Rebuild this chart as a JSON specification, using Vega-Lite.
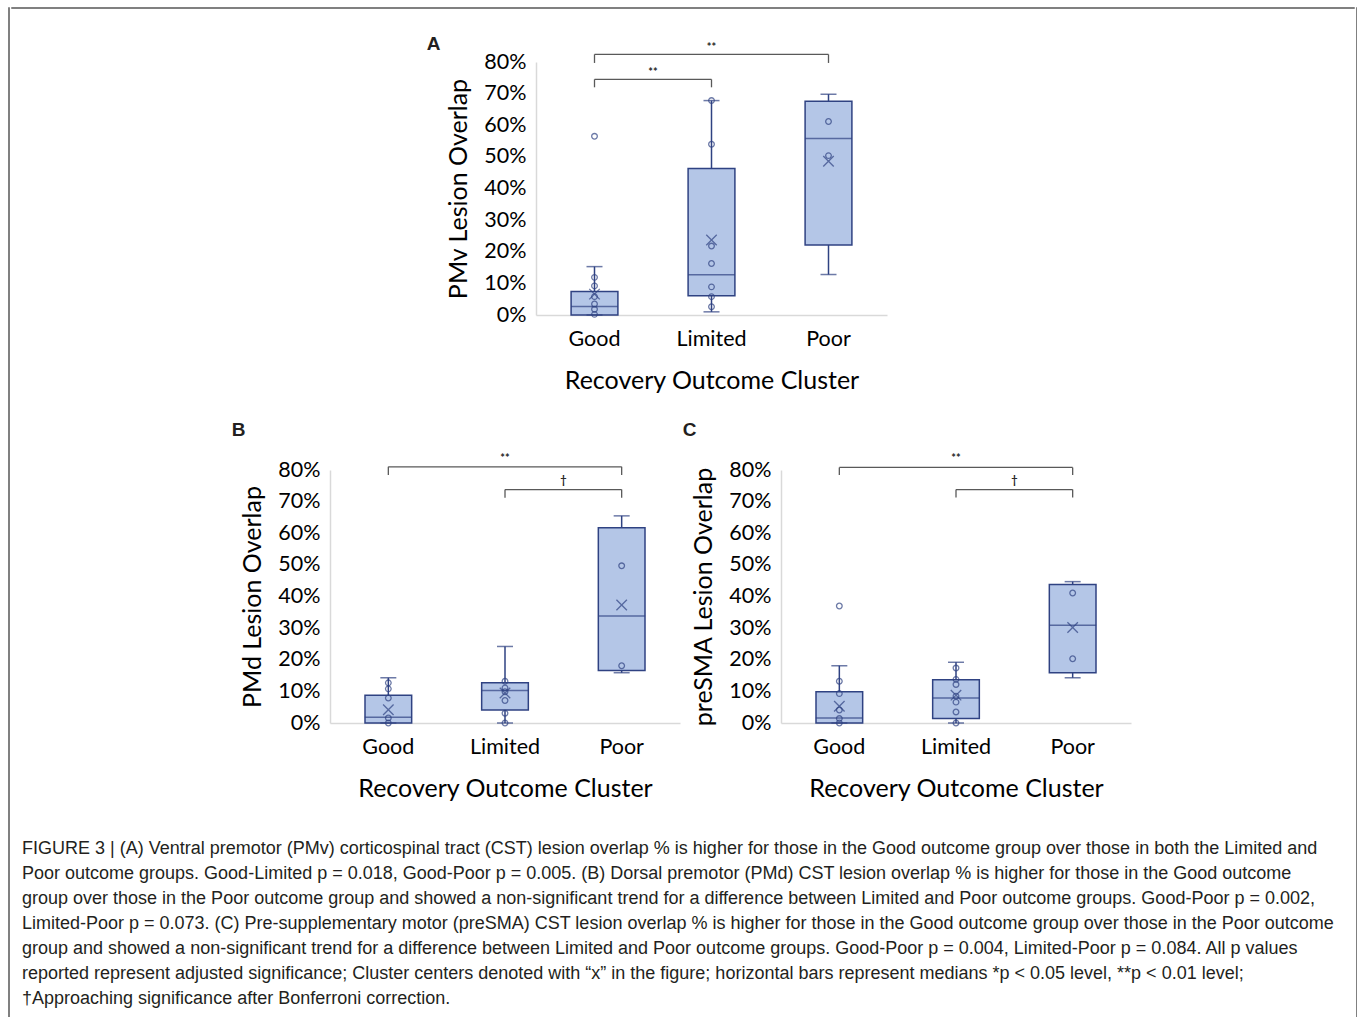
{
  "$schema": "https://vega.github.io/schema/vega-lite/v6.json",
  "padding": {"left": 7, "top": 6, "right": 0, "bottom": 0},
  "autosize": {"type": "pad"},
  "background": "white",
  "spacing": 0,
  "datasets": {
    "stats": [
      {"panel": "A", "group": "Good", "lo": 0, "q1": 0, "median": 2.7, "q3": 7.4, "hi": 15.3, "mean": 6.6},
      {"panel": "A", "group": "Limited", "lo": 1.0, "q1": 6.1, "median": 12.7, "q3": 46.3, "hi": 67.8, "mean": 23.7},
      {"panel": "A", "group": "Poor", "lo": 12.8, "q1": 22.1, "median": 55.8, "q3": 67.6, "hi": 69.8, "mean": 48.6},
      {"panel": "B", "group": "Good", "lo": 0, "q1": 0, "median": 1.8, "q3": 8.8, "hi": 14.3, "mean": 4.2},
      {"panel": "B", "group": "Limited", "lo": 0, "q1": 4.1, "median": 10.3, "q3": 12.7, "hi": 24.2, "mean": 9.5},
      {"panel": "B", "group": "Poor", "lo": 15.9, "q1": 16.6, "median": 33.8, "q3": 61.7, "hi": 65.5, "mean": 37.3},
      {"panel": "C", "group": "Good", "lo": 0, "q1": 0, "median": 1.6, "q3": 9.9, "hi": 18.1, "mean": 5.3},
      {"panel": "C", "group": "Limited", "lo": 0, "q1": 1.4, "median": 7.9, "q3": 13.7, "hi": 19.2, "mean": 8.8},
      {"panel": "C", "group": "Poor", "lo": 14.3, "q1": 15.9, "median": 30.9, "q3": 43.8, "hi": 44.7, "mean": 30.2}
    ],
    "points": [
      {"panel": "A", "group": "Good", "value": 56.5},
      {"panel": "A", "group": "Good", "value": 11.9},
      {"panel": "A", "group": "Good", "value": 9.2},
      {"panel": "A", "group": "Good", "value": 5.8},
      {"panel": "A", "group": "Good", "value": 3.5},
      {"panel": "A", "group": "Good", "value": 1.8},
      {"panel": "A", "group": "Good", "value": 0.2},
      {"panel": "A", "group": "Limited", "value": 67.8},
      {"panel": "A", "group": "Limited", "value": 54.0},
      {"panel": "A", "group": "Limited", "value": 21.8},
      {"panel": "A", "group": "Limited", "value": 16.3},
      {"panel": "A", "group": "Limited", "value": 8.9},
      {"panel": "A", "group": "Limited", "value": 5.8},
      {"panel": "A", "group": "Limited", "value": 2.6},
      {"panel": "A", "group": "Poor", "value": 61.2},
      {"panel": "A", "group": "Poor", "value": 50.4},
      {"panel": "B", "group": "Good", "value": 12.7},
      {"panel": "B", "group": "Good", "value": 10.8},
      {"panel": "B", "group": "Good", "value": 7.9},
      {"panel": "B", "group": "Good", "value": 1.6},
      {"panel": "B", "group": "Good", "value": 0},
      {"panel": "B", "group": "Limited", "value": 13.2},
      {"panel": "B", "group": "Limited", "value": 11.1},
      {"panel": "B", "group": "Limited", "value": 9.9},
      {"panel": "B", "group": "Limited", "value": 7.1},
      {"panel": "B", "group": "Limited", "value": 3.1},
      {"panel": "B", "group": "Limited", "value": 0},
      {"panel": "B", "group": "Poor", "value": 49.7},
      {"panel": "B", "group": "Poor", "value": 18.1},
      {"panel": "C", "group": "Good", "value": 37.0},
      {"panel": "C", "group": "Good", "value": 13.2},
      {"panel": "C", "group": "Good", "value": 9.3},
      {"panel": "C", "group": "Good", "value": 4.1},
      {"panel": "C", "group": "Good", "value": 1.4},
      {"panel": "C", "group": "Good", "value": 0},
      {"panel": "C", "group": "Limited", "value": 17.4},
      {"panel": "C", "group": "Limited", "value": 13.8},
      {"panel": "C", "group": "Limited", "value": 12.2},
      {"panel": "C", "group": "Limited", "value": 8.5},
      {"panel": "C", "group": "Limited", "value": 6.6},
      {"panel": "C", "group": "Limited", "value": 3.5},
      {"panel": "C", "group": "Limited", "value": 0},
      {"panel": "C", "group": "Poor", "value": 41.1},
      {"panel": "C", "group": "Poor", "value": 20.3}
    ],
    "brackets": [
      {"panel": "A", "from": "Good", "to": "Poor", "bar": 82.4, "drop": 79.7, "label": "**", "labelAt": "Limited", "edge": false, "labelY": 84.4},
      {"panel": "A", "from": "Good", "to": "Limited", "bar": 74.5, "drop": 72.0, "label": "**", "labelAt": "Good", "edge": true, "labelY": 76.5},
      {"panel": "B", "from": "Good", "to": "Poor", "bar": 81.0, "drop": 78.4, "label": "**", "labelAt": "Limited", "edge": false, "labelY": 83.6},
      {"panel": "B", "from": "Limited", "to": "Poor", "bar": 73.8, "drop": 71.2, "label": "†", "labelAt": "Limited", "edge": true, "labelY": 76.4},
      {"panel": "C", "from": "Good", "to": "Poor", "bar": 80.8, "drop": 78.4, "label": "**", "labelAt": "Limited", "edge": false, "labelY": 83.6},
      {"panel": "C", "from": "Limited", "to": "Poor", "bar": 73.8, "drop": 71.3, "label": "†", "labelAt": "Limited", "edge": true, "labelY": 76.4}
    ],
    "caption": [
      {"line": 1, "text": "FIGURE 3 | (A) Ventral premotor (PMv) corticospinal tract (CST) lesion overlap % is higher for those in the Good outcome group over those in both the Limited and"},
      {"line": 2, "text": "Poor outcome groups. Good-Limited p = 0.018, Good-Poor p = 0.005. (B) Dorsal premotor (PMd) CST lesion overlap % is higher for those in the Good outcome"},
      {"line": 3, "text": "group over those in the Poor outcome group and showed a non-significant trend for a difference between Limited and Poor outcome groups. Good-Poor p = 0.002,"},
      {"line": 4, "text": "Limited-Poor p = 0.073. (C) Pre-supplementary motor (preSMA) CST lesion overlap % is higher for those in the Good outcome group over those in the Poor outcome"},
      {"line": 5, "text": "group and showed a non-significant trend for a difference between Limited and Poor outcome groups. Good-Poor p = 0.004, Limited-Poor p = 0.084. All p values"},
      {"line": 6, "text": "reported represent adjusted significance; Cluster centers denoted with “x” in the figure; horizontal bars represent medians *p < 0.05 level, **p < 0.01 level;"},
      {"line": 7, "text": "†Approaching significance after Bonferroni correction."}
    ]
  },
  "hconcat": [
    {
      "data": {"values": [{}]},
      "mark": {"type": "point", "opacity": 0, "size": 0},
      "width": 1, "height": 1010,
      "view": {"stroke": "#808080", "strokeWidth": 1}
    },
    {
      "spacing": 26,
      "vconcat": [
        {
          "data": {"values": [{}]},
          "mark": {"type": "point", "opacity": 0, "size": 0},
          "width": 1343, "height": 1,
          "view": {"stroke": "#808080", "strokeWidth": 1}
        },
        {
          "spacing": 34,
          "vconcat": [
            {
              "spacing": 26,
              "vconcat": [
                {
                  "spacing": 0,
                  "hconcat": [
                    {"data": {"values": [{}]}, "mark": {"type": "point", "opacity": 0, "size": 0}, "width": 415, "height": 1},
                    {
                      "width": 351, "height": 253,
                      "title": {"text": "A", "dx": -20, "offset": -12},
                      "layer": [
                        {"data": {"name": "stats"}, "transform": [{"filter": "datum.panel === 'A'"}],
                         "mark": {"type": "rule", "color": "#2f4282", "strokeWidth": 1.5},
                         "encoding": {
                           "x": {"field": "group", "type": "nominal", "title": "Recovery Outcome Cluster", "scale": {"domain": ["Good", "Limited", "Poor"], "paddingInner": 0, "paddingOuter": 0}},
                           "y": {"field": "lo", "type": "quantitative", "title": "PMv Lesion Overlap", "scale": {"domain": [0, 80], "nice": false}, "axis": {"tickCount": 9, "labelExpr": "datum.value + '%'", "labelOverlap": false, "labelSeparation": 0}},
                           "y2": {"field": "hi"}}},
                        {"data": {"name": "stats"}, "transform": [{"filter": "datum.panel === 'A'"}],
                         "mark": {"type": "bar", "width": {"band": 0.4}, "fill": "#b4c6e7", "stroke": "#2f4282", "strokeWidth": 1.5},
                         "encoding": {"x": {"field": "group", "type": "nominal", "title": "Recovery Outcome Cluster"}, "y": {"field": "q1", "type": "quantitative", "title": "PMv Lesion Overlap"}, "y2": {"field": "q3"}}},
                        {"data": {"name": "stats"}, "transform": [{"filter": "datum.panel === 'A'"}],
                         "mark": {"type": "tick", "color": "#2f4282", "size": 16, "thickness": 1.5},
                         "encoding": {"x": {"field": "group", "type": "nominal", "title": "Recovery Outcome Cluster"}, "y": {"field": "hi", "type": "quantitative", "title": "PMv Lesion Overlap"}}},
                        {"data": {"name": "stats"}, "transform": [{"filter": "datum.panel === 'A'"}],
                         "mark": {"type": "tick", "color": "#2f4282", "size": 16, "thickness": 1.5},
                         "encoding": {"x": {"field": "group", "type": "nominal", "title": "Recovery Outcome Cluster"}, "y": {"field": "lo", "type": "quantitative", "title": "PMv Lesion Overlap"}}},
                        {"data": {"name": "stats"}, "transform": [{"filter": "datum.panel === 'A'"}],
                         "mark": {"type": "tick", "color": "#2f4282", "size": 47, "thickness": 1.5},
                         "encoding": {"x": {"field": "group", "type": "nominal", "title": "Recovery Outcome Cluster"}, "y": {"field": "median", "type": "quantitative", "title": "PMv Lesion Overlap"}}},
                        {"data": {"name": "points"}, "transform": [{"filter": "datum.panel === 'A'"}],
                         "mark": {"type": "point", "shape": "circle", "filled": false, "size": 32, "color": "#2f4282", "strokeWidth": 1.3},
                         "encoding": {"x": {"field": "group", "type": "nominal", "title": "Recovery Outcome Cluster"}, "y": {"field": "value", "type": "quantitative", "title": "PMv Lesion Overlap"}}},
                        {"data": {"name": "stats"}, "transform": [{"filter": "datum.panel === 'A'"}],
                         "mark": {"type": "point", "shape": "M-1,-1L1,1M-1,1L1,-1", "filled": false, "size": 110, "color": "#2f4282", "strokeWidth": 1.3},
                         "encoding": {"x": {"field": "group", "type": "nominal", "title": "Recovery Outcome Cluster"}, "y": {"field": "mean", "type": "quantitative", "title": "PMv Lesion Overlap"}}},
                        {"data": {"name": "brackets"}, "transform": [{"filter": "datum.panel === 'A'"}],
                         "mark": {"type": "rule", "color": "#595959", "strokeWidth": 1.3},
                         "encoding": {"x": {"field": "from", "type": "nominal", "title": "Recovery Outcome Cluster"}, "x2": {"field": "to"}, "y": {"field": "bar", "type": "quantitative", "title": "PMv Lesion Overlap"}}},
                        {"data": {"name": "brackets"}, "transform": [{"filter": "datum.panel === 'A'"}],
                         "mark": {"type": "rule", "color": "#595959", "strokeWidth": 1.3},
                         "encoding": {"x": {"field": "from", "type": "nominal", "title": "Recovery Outcome Cluster"}, "y": {"field": "drop", "type": "quantitative", "title": "PMv Lesion Overlap"}, "y2": {"field": "bar"}}},
                        {"data": {"name": "brackets"}, "transform": [{"filter": "datum.panel === 'A'"}],
                         "mark": {"type": "rule", "color": "#595959", "strokeWidth": 1.3},
                         "encoding": {"x": {"field": "to", "type": "nominal", "title": "Recovery Outcome Cluster"}, "y": {"field": "drop", "type": "quantitative", "title": "PMv Lesion Overlap"}, "y2": {"field": "bar"}}},
                        {"data": {"name": "brackets"}, "transform": [{"filter": "datum.panel === 'A' && !datum.edge"}],
                         "mark": {"type": "text", "fontSize": 11, "fontWeight": "bold", "color": "#262626", "baseline": "middle"},
                         "encoding": {"x": {"field": "labelAt", "type": "nominal", "bandPosition": 0.5, "title": "Recovery Outcome Cluster"}, "y": {"field": "labelY", "type": "quantitative", "title": "PMv Lesion Overlap"}, "text": {"field": "label"}}},
                        {"data": {"name": "brackets"}, "transform": [{"filter": "datum.panel === 'A' && datum.edge"}],
                         "mark": {"type": "text", "fontSize": 11, "fontWeight": "bold", "color": "#262626", "baseline": "middle"},
                         "encoding": {"x": {"field": "labelAt", "type": "nominal", "bandPosition": 1, "title": "Recovery Outcome Cluster"}, "y": {"field": "labelY", "type": "quantitative", "title": "PMv Lesion Overlap"}, "text": {"field": "label"}}}
                      ]
                    }
                  ]
                },
                {
                  "spacing": 2,
                  "hconcat": [
                    {"data": {"values": [{}]}, "mark": {"type": "point", "opacity": 0, "size": 0}, "width": 218, "height": 1},
                    {
                      "width": 350, "height": 253,
                      "title": {"text": "B", "dx": -9, "offset": 13},
                      "layer": [
                        {"data": {"name": "stats"}, "transform": [{"filter": "datum.panel === 'B'"}],
                         "mark": {"type": "rule", "color": "#2f4282", "strokeWidth": 1.5},
                         "encoding": {
                           "x": {"field": "group", "type": "nominal", "title": "Recovery Outcome Cluster", "scale": {"domain": ["Good", "Limited", "Poor"], "paddingInner": 0, "paddingOuter": 0}},
                           "y": {"field": "lo", "type": "quantitative", "title": "PMd Lesion Overlap", "scale": {"domain": [0, 80], "nice": false}, "axis": {"tickCount": 9, "labelExpr": "datum.value + '%'", "labelOverlap": false, "labelSeparation": 0}},
                           "y2": {"field": "hi"}}},
                        {"data": {"name": "stats"}, "transform": [{"filter": "datum.panel === 'B'"}],
                         "mark": {"type": "bar", "width": {"band": 0.4}, "fill": "#b4c6e7", "stroke": "#2f4282", "strokeWidth": 1.5},
                         "encoding": {"x": {"field": "group", "type": "nominal", "title": "Recovery Outcome Cluster"}, "y": {"field": "q1", "type": "quantitative", "title": "PMd Lesion Overlap"}, "y2": {"field": "q3"}}},
                        {"data": {"name": "stats"}, "transform": [{"filter": "datum.panel === 'B'"}],
                         "mark": {"type": "tick", "color": "#2f4282", "size": 16, "thickness": 1.5},
                         "encoding": {"x": {"field": "group", "type": "nominal", "title": "Recovery Outcome Cluster"}, "y": {"field": "hi", "type": "quantitative", "title": "PMd Lesion Overlap"}}},
                        {"data": {"name": "stats"}, "transform": [{"filter": "datum.panel === 'B'"}],
                         "mark": {"type": "tick", "color": "#2f4282", "size": 16, "thickness": 1.5},
                         "encoding": {"x": {"field": "group", "type": "nominal", "title": "Recovery Outcome Cluster"}, "y": {"field": "lo", "type": "quantitative", "title": "PMd Lesion Overlap"}}},
                        {"data": {"name": "stats"}, "transform": [{"filter": "datum.panel === 'B'"}],
                         "mark": {"type": "tick", "color": "#2f4282", "size": 47, "thickness": 1.5},
                         "encoding": {"x": {"field": "group", "type": "nominal", "title": "Recovery Outcome Cluster"}, "y": {"field": "median", "type": "quantitative", "title": "PMd Lesion Overlap"}}},
                        {"data": {"name": "points"}, "transform": [{"filter": "datum.panel === 'B'"}],
                         "mark": {"type": "point", "shape": "circle", "filled": false, "size": 32, "color": "#2f4282", "strokeWidth": 1.3},
                         "encoding": {"x": {"field": "group", "type": "nominal", "title": "Recovery Outcome Cluster"}, "y": {"field": "value", "type": "quantitative", "title": "PMd Lesion Overlap"}}},
                        {"data": {"name": "stats"}, "transform": [{"filter": "datum.panel === 'B'"}],
                         "mark": {"type": "point", "shape": "M-1,-1L1,1M-1,1L1,-1", "filled": false, "size": 110, "color": "#2f4282", "strokeWidth": 1.3},
                         "encoding": {"x": {"field": "group", "type": "nominal", "title": "Recovery Outcome Cluster"}, "y": {"field": "mean", "type": "quantitative", "title": "PMd Lesion Overlap"}}},
                        {"data": {"name": "brackets"}, "transform": [{"filter": "datum.panel === 'B'"}],
                         "mark": {"type": "rule", "color": "#595959", "strokeWidth": 1.3},
                         "encoding": {"x": {"field": "from", "type": "nominal", "title": "Recovery Outcome Cluster"}, "x2": {"field": "to"}, "y": {"field": "bar", "type": "quantitative", "title": "PMd Lesion Overlap"}}},
                        {"data": {"name": "brackets"}, "transform": [{"filter": "datum.panel === 'B'"}],
                         "mark": {"type": "rule", "color": "#595959", "strokeWidth": 1.3},
                         "encoding": {"x": {"field": "from", "type": "nominal", "title": "Recovery Outcome Cluster"}, "y": {"field": "drop", "type": "quantitative", "title": "PMd Lesion Overlap"}, "y2": {"field": "bar"}}},
                        {"data": {"name": "brackets"}, "transform": [{"filter": "datum.panel === 'B'"}],
                         "mark": {"type": "rule", "color": "#595959", "strokeWidth": 1.3},
                         "encoding": {"x": {"field": "to", "type": "nominal", "title": "Recovery Outcome Cluster"}, "y": {"field": "drop", "type": "quantitative", "title": "PMd Lesion Overlap"}, "y2": {"field": "bar"}}},
                        {"data": {"name": "brackets"}, "transform": [{"filter": "datum.panel === 'B' && !datum.edge"}],
                         "mark": {"type": "text", "fontSize": 11, "fontWeight": "bold", "color": "#262626", "baseline": "middle"},
                         "encoding": {"x": {"field": "labelAt", "type": "nominal", "bandPosition": 0.5, "title": "Recovery Outcome Cluster"}, "y": {"field": "labelY", "type": "quantitative", "title": "PMd Lesion Overlap"}, "text": {"field": "label"}}},
                        {"data": {"name": "brackets"}, "transform": [{"filter": "datum.panel === 'B' && datum.edge"}],
                         "mark": {"type": "text", "fontSize": 11, "fontWeight": "bold", "color": "#262626", "baseline": "middle"},
                         "encoding": {"x": {"field": "labelAt", "type": "nominal", "bandPosition": 1, "title": "Recovery Outcome Cluster"}, "y": {"field": "labelY", "type": "quantitative", "title": "PMd Lesion Overlap"}, "text": {"field": "label"}}}
                      ]
                    },
                    {
                      "width": 350, "height": 253,
                      "title": {"text": "C", "dx": -9, "offset": 13},
                      "layer": [
                        {"data": {"name": "stats"}, "transform": [{"filter": "datum.panel === 'C'"}],
                         "mark": {"type": "rule", "color": "#2f4282", "strokeWidth": 1.5},
                         "encoding": {
                           "x": {"field": "group", "type": "nominal", "title": "Recovery Outcome Cluster", "scale": {"domain": ["Good", "Limited", "Poor"], "paddingInner": 0, "paddingOuter": 0}},
                           "y": {"field": "lo", "type": "quantitative", "title": "preSMA Lesion Overlap", "scale": {"domain": [0, 80], "nice": false}, "axis": {"tickCount": 9, "labelExpr": "datum.value + '%'", "labelOverlap": false, "labelSeparation": 0}},
                           "y2": {"field": "hi"}}},
                        {"data": {"name": "stats"}, "transform": [{"filter": "datum.panel === 'C'"}],
                         "mark": {"type": "bar", "width": {"band": 0.4}, "fill": "#b4c6e7", "stroke": "#2f4282", "strokeWidth": 1.5},
                         "encoding": {"x": {"field": "group", "type": "nominal", "title": "Recovery Outcome Cluster"}, "y": {"field": "q1", "type": "quantitative", "title": "preSMA Lesion Overlap"}, "y2": {"field": "q3"}}},
                        {"data": {"name": "stats"}, "transform": [{"filter": "datum.panel === 'C'"}],
                         "mark": {"type": "tick", "color": "#2f4282", "size": 16, "thickness": 1.5},
                         "encoding": {"x": {"field": "group", "type": "nominal", "title": "Recovery Outcome Cluster"}, "y": {"field": "hi", "type": "quantitative", "title": "preSMA Lesion Overlap"}}},
                        {"data": {"name": "stats"}, "transform": [{"filter": "datum.panel === 'C'"}],
                         "mark": {"type": "tick", "color": "#2f4282", "size": 16, "thickness": 1.5},
                         "encoding": {"x": {"field": "group", "type": "nominal", "title": "Recovery Outcome Cluster"}, "y": {"field": "lo", "type": "quantitative", "title": "preSMA Lesion Overlap"}}},
                        {"data": {"name": "stats"}, "transform": [{"filter": "datum.panel === 'C'"}],
                         "mark": {"type": "tick", "color": "#2f4282", "size": 47, "thickness": 1.5},
                         "encoding": {"x": {"field": "group", "type": "nominal", "title": "Recovery Outcome Cluster"}, "y": {"field": "median", "type": "quantitative", "title": "preSMA Lesion Overlap"}}},
                        {"data": {"name": "points"}, "transform": [{"filter": "datum.panel === 'C'"}],
                         "mark": {"type": "point", "shape": "circle", "filled": false, "size": 32, "color": "#2f4282", "strokeWidth": 1.3},
                         "encoding": {"x": {"field": "group", "type": "nominal", "title": "Recovery Outcome Cluster"}, "y": {"field": "value", "type": "quantitative", "title": "preSMA Lesion Overlap"}}},
                        {"data": {"name": "stats"}, "transform": [{"filter": "datum.panel === 'C'"}],
                         "mark": {"type": "point", "shape": "M-1,-1L1,1M-1,1L1,-1", "filled": false, "size": 110, "color": "#2f4282", "strokeWidth": 1.3},
                         "encoding": {"x": {"field": "group", "type": "nominal", "title": "Recovery Outcome Cluster"}, "y": {"field": "mean", "type": "quantitative", "title": "preSMA Lesion Overlap"}}},
                        {"data": {"name": "brackets"}, "transform": [{"filter": "datum.panel === 'C'"}],
                         "mark": {"type": "rule", "color": "#595959", "strokeWidth": 1.3},
                         "encoding": {"x": {"field": "from", "type": "nominal", "title": "Recovery Outcome Cluster"}, "x2": {"field": "to"}, "y": {"field": "bar", "type": "quantitative", "title": "preSMA Lesion Overlap"}}},
                        {"data": {"name": "brackets"}, "transform": [{"filter": "datum.panel === 'C'"}],
                         "mark": {"type": "rule", "color": "#595959", "strokeWidth": 1.3},
                         "encoding": {"x": {"field": "from", "type": "nominal", "title": "Recovery Outcome Cluster"}, "y": {"field": "drop", "type": "quantitative", "title": "preSMA Lesion Overlap"}, "y2": {"field": "bar"}}},
                        {"data": {"name": "brackets"}, "transform": [{"filter": "datum.panel === 'C'"}],
                         "mark": {"type": "rule", "color": "#595959", "strokeWidth": 1.3},
                         "encoding": {"x": {"field": "to", "type": "nominal", "title": "Recovery Outcome Cluster"}, "y": {"field": "drop", "type": "quantitative", "title": "preSMA Lesion Overlap"}, "y2": {"field": "bar"}}},
                        {"data": {"name": "brackets"}, "transform": [{"filter": "datum.panel === 'C' && !datum.edge"}],
                         "mark": {"type": "text", "fontSize": 11, "fontWeight": "bold", "color": "#262626", "baseline": "middle"},
                         "encoding": {"x": {"field": "labelAt", "type": "nominal", "bandPosition": 0.5, "title": "Recovery Outcome Cluster"}, "y": {"field": "labelY", "type": "quantitative", "title": "preSMA Lesion Overlap"}, "text": {"field": "label"}}},
                        {"data": {"name": "brackets"}, "transform": [{"filter": "datum.panel === 'C' && datum.edge"}],
                         "mark": {"type": "text", "fontSize": 11, "fontWeight": "bold", "color": "#262626", "baseline": "middle"},
                         "encoding": {"x": {"field": "labelAt", "type": "nominal", "bandPosition": 1, "title": "Recovery Outcome Cluster"}, "y": {"field": "labelY", "type": "quantitative", "title": "preSMA Lesion Overlap"}, "text": {"field": "label"}}}
                      ]
                    }
                  ]
                }
              ]
            },
            {
              "spacing": 0,
              "hconcat": [
                {"data": {"values": [{}]}, "mark": {"type": "point", "opacity": 0, "size": 0}, "width": 11, "height": 1},
                {
                  "data": {"name": "caption"},
                  "width": 1320,
                  "height": {"step": 25},
                  "mark": {"type": "text", "align": "left", "baseline": "middle", "font": "Liberation Sans", "fontSize": 18, "color": "#231f20"},
                  "encoding": {
                    "x": {"datum": 0, "type": "quantitative", "scale": {"domain": [0, 1]}, "axis": null},
                    "y": {"field": "line", "type": "ordinal", "axis": null},
                    "text": {"field": "text"}
                  }
                }
              ]
            }
          ]
        }
      ]
    },
    {
      "data": {"values": [{}]},
      "mark": {"type": "point", "opacity": 0, "size": 0},
      "width": 1, "height": 1010,
      "view": {"stroke": "#808080", "strokeWidth": 1}
    }
  ],
  "config": {
    "font": "Lato",
    "view": {"stroke": null},
    "axis": {"domainColor": "#d9d9d9", "domainWidth": 1.5, "ticks": false, "grid": false, "labelFont": "Lato", "labelFontSize": 21.5, "labelColor": "#000000", "titleFont": "Lato", "titleFontSize": 25, "titleFontWeight": "normal", "titleColor": "#000000", "labelFlush": false},
    "axisX": {"labelAngle": 0, "labelPadding": 13, "titlePadding": 19},
    "axisY": {"labelPadding": 10, "titlePadding": 12},
    "title": {"font": "Liberation Sans", "fontSize": 19, "fontWeight": "bold", "anchor": "start", "color": "#231f20"}
  }
}
